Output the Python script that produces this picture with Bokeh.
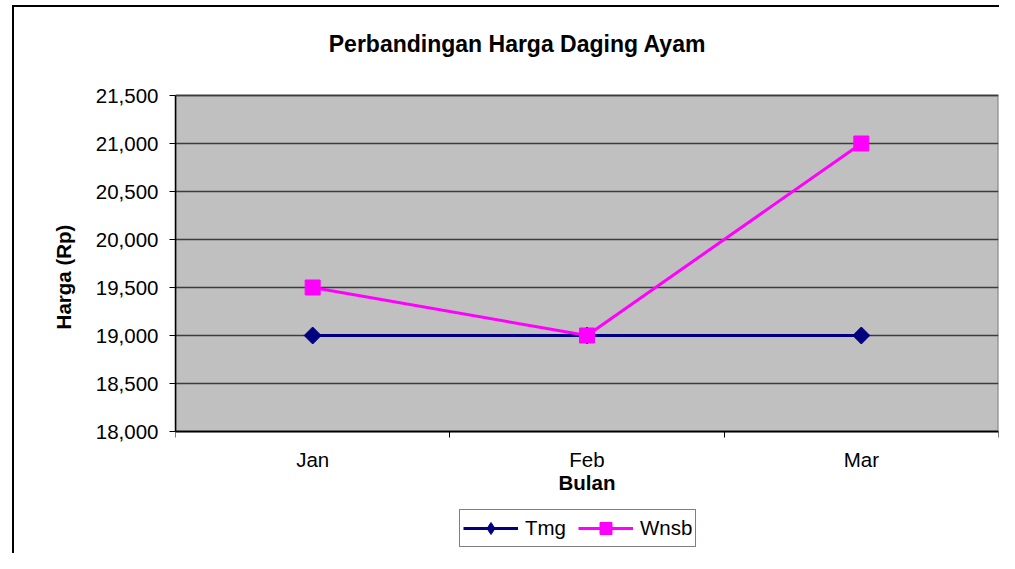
import numpy as np
from bokeh.plotting import figure
from bokeh.models import (Range1d, FixedTicker, NumeralTickFormatter, Legend, LegendItem, Label)
from bokeh.embed import file_html
from bokeh.resources import INLINE

months = ["Jan", "Feb", "Mar"]
tmg = [19000, 19000, 19000]
wnsb = [19500, 19000, 21000]
y_ticks = [18000, 18500, 19000, 19500, 20000, 20500, 21000, 21500]

title_text = "Perbandingan Harga Daging Ayam"
x_label = "Bulan"
y_label = "Harga (Rp)"

FONT = "Liberation Sans"
FS = "20.5px"

W, H = 999, 553
LEFT = 175            # frame left (px)
PLOT_TOP = 95         # top of grey plot area (px)
PLOT_H = 336          # height of grey plot area (px)

x_pos = [i + 0.5 for i in range(len(months))]
y_lo, y_hi = y_ticks[0], y_ticks[-1]
upp = (y_hi - y_lo) / PLOT_H                 # data units per pixel
y_range = Range1d(y_hi - (H - PLOT_TOP) * upp, y_hi + PLOT_TOP * upp)

border_css = ("linear-gradient(black, black) 12px 5px / 2px 100% no-repeat, "
              "linear-gradient(black, black) 12px 5px / 100% 2px no-repeat")

p = figure(width=W, height=H, output_backend="svg", toolbar_location=None, title=None,
           x_range=Range1d(0, len(months)), y_range=y_range,
           min_border_left=LEFT, min_border_top=0, min_border_right=1, min_border_bottom=0,
           border_fill_color=None, background_fill_color=None, outline_line_color=None,
           styles={"background": border_css})

# grey plot area
p.quad(left=[0], right=[len(months)], bottom=[y_lo], top=[y_hi], level="image",
       fill_color="#C0C0C0", line_color="#808080", line_width=2)

# axes
xa = p.xaxis[0]
xa.fixed_location = y_lo
xa.bounds = (0, len(months))
xa.ticker = FixedTicker(ticks=x_pos, minor_ticks=list(range(len(months) + 1)))
xa.major_label_overrides = {x: m for x, m in zip(x_pos, months)}
xa.major_tick_out = 0
xa.major_tick_in = 0
xa.minor_tick_out = 6
xa.minor_tick_in = 0
xa.minor_tick_line_color = "black"
xa.minor_tick_line_width = 1
xa.axis_line_color = "black"
xa.axis_line_width = 1.5
xa.major_label_text_font = FONT
xa.major_label_text_font_size = FS
xa.major_label_text_color = "black"
xa.major_label_standoff = 10
xa.axis_label = x_label
xa.axis_label_text_font = FONT
xa.axis_label_text_font_size = FS
xa.axis_label_text_font_style = "bold"
xa.axis_label_text_color = "black"
xa.axis_label_standoff = -3

ya = p.yaxis[0]
ya.bounds = (y_lo, y_hi)
ya.ticker = FixedTicker(ticks=y_ticks, minor_ticks=[])
ya.formatter = NumeralTickFormatter(format="0,0")
ya.major_tick_out = 6
ya.major_tick_in = 0
ya.major_tick_line_color = "black"
ya.minor_tick_out = 0
ya.minor_tick_in = 0
ya.axis_line_color = "black"
ya.axis_line_width = 1.5
ya.major_label_text_font = FONT
ya.major_label_text_font_size = FS
ya.major_label_text_color = "black"
ya.major_label_standoff = 11
ya.axis_label = y_label
ya.axis_label_text_font = FONT
ya.axis_label_text_font_size = FS
ya.axis_label_text_font_style = "bold"
ya.axis_label_text_color = "black"
ya.axis_label_standoff = 18

p.xgrid.visible = False
p.ygrid.grid_line_color = "#3c3c3c"
p.ygrid.grid_line_width = 1.3
p.ygrid.ticker = FixedTicker(ticks=y_ticks)

# title
p.add_layout(Label(x=517 - LEFT, y=H - 43, x_units="screen", y_units="screen",
                   text=title_text, text_align="center", text_baseline="alphabetic",
                   text_font=FONT, text_font_size="23px", text_font_style="bold",
                   text_color="black"))

# series
l1 = p.line(x_pos, tmg, line_color="#000080", line_width=3)
# diamond used for the legend key (lies fully under the rotated-square markers)
s1_key = p.scatter(x_pos, tmg, marker="diamond", size=14,
                   fill_color="#000080", line_color="#000080")
s1 = p.scatter(x_pos, tmg, marker="square", angle=np.pi / 4, size=12,
               fill_color="#000080", line_color="#000080")
l2 = p.line(x_pos, wnsb, line_color="#FF00FF", line_width=3)
s2 = p.scatter(x_pos, wnsb, marker="square", size=15,
               fill_color="#FF00FF", line_color="#FF00FF")

legend = Legend(items=[LegendItem(label="Tmg", renderers=[l1, s1_key]),
                       LegendItem(label="Wnsb", renderers=[l2, s2])],
                orientation="horizontal", location=(459 - LEFT, H - 547),
                glyph_width=55, glyph_height=30, padding=3, spacing=12,
                label_standoff=7, label_text_font=FONT, label_text_font_size=FS,
                label_text_color="black", border_line_color="black", border_line_width=1.5,
                background_fill_color="white", background_fill_alpha=1, margin=0)
p.add_layout(legend, "center")

open("out.html", "w").write(file_html(p, INLINE))
